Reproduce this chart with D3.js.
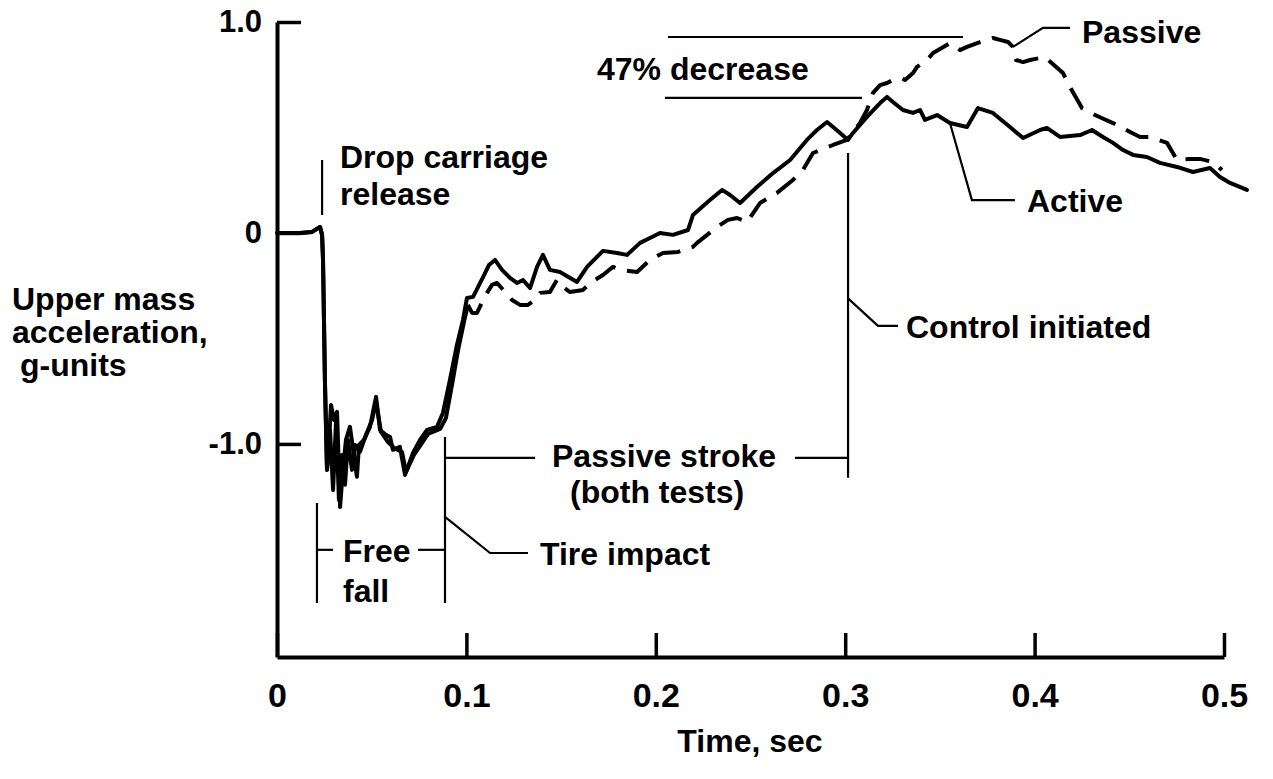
<!DOCTYPE html>
<html>
<head>
<meta charset="utf-8">
<script src="https://cdn.jsdelivr.net/npm/d3@7"></script>
<style>
  body { margin: 0; background: #fff; }
  text { font-family: "Liberation Sans", Arial, Helvetica, sans-serif; font-weight: bold; fill: #000; }
</style>
</head>
<body>
<script>
// x ticks (sec) and y ticks (g-units)
var xTicks = [0, 0.1, 0.2, 0.3, 0.4, 0.5];
var yTicks = [-1.0, 0, 1.0];
var xTickLabels = ["0", "0.1", "0.2", "0.3", "0.4", "0.5"];
var yTickLabels = ["-1.0", "0", "1.0"];

// active test, [time, accel]
var active = [
  [0, 0], [0.0121, 0], [0.0185, 0.005], [0.0227, 0.028], [0.0238, -0.009],
  [0.0243, -0.128], [0.0248, -0.412], [0.0253, -0.697], [0.0259, -0.934], [0.0264, -1.123],
  [0.0275, -0.981], [0.0285, -0.815], [0.0301, -0.886], [0.0317, -0.848], [0.0327, -1.123],
  [0.0333, -1.299], [0.0348, -1.123], [0.0364, -0.981], [0.0385, -0.919], [0.0406, -1.052],
  [0.0422, -1.156], [0.0433, -1.005], [0.0459, -0.981], [0.0491, -0.919], [0.0523, -0.777],
  [0.0544, -0.934], [0.0575, -0.957], [0.0597, -0.967], [0.0612, -1.028], [0.0649, -1.014],
  [0.0676, -1.147], [0.0718, -1.043], [0.0755, -0.981], [0.0792, -0.934], [0.0845, -0.919],
  [0.0876, -0.853], [0.0913, -0.697], [0.0950, -0.531], [0.0982, -0.412], [0.1003, -0.308],
  [0.1035, -0.303], [0.1088, -0.209], [0.1119, -0.152], [0.1151, -0.128], [0.1188, -0.175],
  [0.1230, -0.213], [0.1267, -0.237], [0.1299, -0.223], [0.1336, -0.261], [0.1373, -0.161],
  [0.1404, -0.104], [0.1441, -0.175], [0.1494, -0.185], [0.1584, -0.232], [0.1637, -0.161],
  [0.1721, -0.085], [0.1795, -0.095], [0.1848, -0.104], [0.1917, -0.047], [0.1969, -0.024],
  [0.2022, 0], [0.2091, -0.009], [0.2170, 0.014], [0.2196, 0.085], [0.2286, 0.156],
  [0.2350, 0.204], [0.2392, 0.180], [0.2445, 0.142], [0.2534, 0.218], [0.2619, 0.284],
  [0.2709, 0.346], [0.2798, 0.441], [0.2851, 0.488], [0.2904, 0.526], [0.2936, 0.502],
  [0.2973, 0.474], [0.3015, 0.441], [0.3041, 0.474], [0.3115, 0.550], [0.3184, 0.616],
  [0.3221, 0.645], [0.3252, 0.621], [0.3305, 0.583], [0.3358, 0.569], [0.3395, 0.583],
  [0.3421, 0.536], [0.3485, 0.559], [0.3553, 0.521], [0.3643, 0.502], [0.3701, 0.592],
  [0.3780, 0.569], [0.3870, 0.502], [0.3939, 0.450], [0.4029, 0.488], [0.4065, 0.498],
  [0.4134, 0.455], [0.4240, 0.464], [0.4303, 0.488], [0.4361, 0.455], [0.4414, 0.427],
  [0.4467, 0.393], [0.4520, 0.370], [0.4593, 0.360], [0.4662, 0.332], [0.4752, 0.313],
  [0.4836, 0.289], [0.4926, 0.308], [0.4979, 0.265], [0.5032, 0.237], [0.5121, 0.204]
];

// passive test: same start as active, own trace in free fall, then the upper dashed trace
var passiveEarly = [
  [0.0280, -0.934], [0.0296, -1.218], [0.0312, -0.886], [0.0327, -1.265], [0.0343, -1.052],
  [0.0359, -1.194], [0.0375, -0.981], [0.0396, -1.123], [0.0412, -1.005], [0.0438, -1.038],
  [0.0470, -0.957], [0.0502, -0.886], [0.0523, -0.801], [0.0549, -0.943], [0.0586, -0.991],
  [0.0618, -1.019], [0.0660, -1.038], [0.0681, -1.133], [0.0723, -1.052], [0.0797, -0.953],
  [0.0861, -0.929], [0.0892, -0.877], [0.0924, -0.720], [0.0956, -0.555], [0.0987, -0.422],
  [0.1008, -0.341]
];
var passiveTail = [
  [0.1030, -0.379], [0.1056, -0.379], [0.1088, -0.318], [0.1109, -0.284], [0.1135, -0.246],
  [0.1162, -0.237], [0.1204, -0.280], [0.1241, -0.318], [0.1283, -0.341], [0.1325, -0.341],
  [0.1362, -0.318], [0.1389, -0.284], [0.1441, -0.280], [0.1478, -0.223], [0.1510, -0.256],
  [0.1547, -0.280], [0.1616, -0.270], [0.1653, -0.237], [0.1721, -0.199], [0.1774, -0.161],
  [0.1811, -0.175], [0.1901, -0.185], [0.1969, -0.128], [0.2038, -0.095], [0.2117, -0.090],
  [0.2196, -0.066], [0.2218, -0.047], [0.2323, 0.028], [0.2381, 0.062], [0.2429, 0.071],
  [0.2482, 0.052], [0.2550, 0.142], [0.2640, 0.190], [0.2724, 0.251], [0.2777, 0.299],
  [0.2830, 0.379], [0.2936, 0.417], [0.3009, 0.441], [0.3078, 0.521], [0.3115, 0.583],
  [0.3147, 0.664], [0.3184, 0.701], [0.3221, 0.711], [0.3252, 0.725], [0.3289, 0.735],
  [0.3316, 0.725], [0.3358, 0.758], [0.3379, 0.787], [0.3432, 0.820], [0.3464, 0.853],
  [0.3553, 0.900], [0.3606, 0.867], [0.3643, 0.882], [0.3712, 0.905], [0.3780, 0.924],
  [0.3817, 0.915], [0.3860, 0.905], [0.3886, 0.882], [0.3902, 0.820], [0.3939, 0.810],
  [0.3976, 0.820], [0.4055, 0.834], [0.4150, 0.758], [0.4187, 0.692], [0.4250, 0.592],
  [0.4319, 0.559], [0.4414, 0.521], [0.4504, 0.479], [0.4557, 0.455], [0.4609, 0.455],
  [0.4699, 0.427], [0.4752, 0.346], [0.4820, 0.351], [0.4873, 0.351], [0.4942, 0.336],
  [0.4989, 0.299]
];
var passiveStart = active.filter(function(d) { return d[0] <= 0.0264; });
var passiveFree = passiveStart.concat(passiveEarly);   // drawn solid, traces overlap here
var passive = [passiveEarly[passiveEarly.length - 1]].concat(passiveTail);

var width = 1273, height = 779;
var svg = d3.select("body").append("svg")
    .attr("width", width)
    .attr("height", height);

var x = d3.scaleLinear().domain([0, 0.5]).range([277, 1224]);
var y = d3.scaleLinear().domain([-2.01, 1.0]).range([657, 22]);

// axes, ticks point inward
var xAxis = svg.append("g")
    .attr("transform", "translate(0,657)")
    .call(d3.axisBottom(x).tickValues(xTicks).tickSizeInner(-24).tickSizeOuter(0).tickPadding(26)
      .tickFormat(function(d, i) { return xTickLabels[i]; }));
xAxis.select(".domain").attr("stroke-width", 4);
xAxis.selectAll(".tick line").attr("stroke-width", 3.5);
xAxis.selectAll(".tick text").style("font-size", "34px").attr("fill", "#000");

var yAxis = svg.append("g")
    .attr("transform", "translate(277,0)")
    .call(d3.axisLeft(y).tickValues(yTicks).tickSizeInner(-24).tickSizeOuter(0).tickPadding(15)
      .tickFormat(function(d, i) { return yTickLabels[i]; }));
yAxis.select(".domain").attr("stroke-width", 4);
yAxis.selectAll(".tick line").attr("stroke-width", 3.5);
yAxis.selectAll(".tick text").style("font-size", "31px").attr("fill", "#000");

var line = d3.line()
    .x(function(d) { return x(d[0]); })
    .y(function(d) { return y(d[1]); });

svg.append("path")
    .datum(passive)
    .attr("d", line)
    .attr("fill", "none")
    .attr("stroke", "#000")
    .attr("stroke-width", 4)
    .attr("stroke-dasharray", "24,12")
    .attr("stroke-linejoin", "round");

svg.append("path")
    .datum(passiveFree)
    .attr("d", line)
    .attr("fill", "none")
    .attr("stroke", "#000")
    .attr("stroke-width", 4)
    .attr("stroke-linejoin", "round");

svg.append("path")
    .datum(active)
    .attr("d", line)
    .attr("fill", "none")
    .attr("stroke", "#000")
    .attr("stroke-width", 4)
    .attr("stroke-linejoin", "round")
    .attr("stroke-linecap", "round");

// leader lines, in data units
var leaders = [
  [[0.0238, 0.346], [0.0238, 0.085]],                                   // drop carriage release
  [[0.0211, -1.28], [0.0211, -1.754]],                                  // free fall left
  [[0.0211, -1.502], [0.0296, -1.502]],
  [[0.0745, -1.502], [0.0887, -1.502]],
  [[0.0887, -0.967], [0.0887, -1.754]],                                 // tire impact
  [[0.0887, -1.346], [0.1125, -1.517], [0.1325, -1.517]],
  [[0.0887, -1.066], [0.1363, -1.066]],                                 // passive stroke
  [[0.2735, -1.066], [0.3015, -1.066]],
  [[0.3015, 0.379], [0.3015, -1.16]],                                   // control initiated
  [[0.3015, -0.31], [0.3173, -0.44], [0.3279, -0.44]],
  [[0.2064, 0.929], [0.3622, 0.929]],                                   // 47% decrease
  [[0.2048, 0.64], [0.3089, 0.64]],
  [[0.3553, 0.521], [0.3669, 0.156], [0.3896, 0.156]],                  // active
  [[0.3886, 0.882], [0.4044, 0.972], [0.4187, 0.972]]                   // passive
];
svg.selectAll(".leader")
    .data(leaders)
  .enter().append("path")
    .attr("class", "leader")
    .attr("d", line)
    .attr("fill", "none")
    .attr("stroke", "#000")
    .attr("stroke-width", 2.2);

var labels = [
  {t: "Drop carriage", x: 340, y: 168},
  {t: "release", x: 340, y: 205},
  {t: "47% decrease", x: 597, y: 80},
  {t: "Passive", x: 1082, y: 43},
  {t: "Active", x: 1027, y: 212},
  {t: "Control initiated", x: 906, y: 338},
  {t: "Upper mass", x: 12, y: 310},
  {t: "acceleration,", x: 12, y: 343},
  {t: "g-units", x: 20, y: 376},
  {t: "Passive stroke", x: 552, y: 467},
  {t: "(both tests)", x: 570, y: 503},
  {t: "Tire impact", x: 540, y: 565},
  {t: "Free", x: 343, y: 562},
  {t: "fall", x: 343, y: 602},
  {t: "Time, sec", x: 750, y: 752, anchor: "middle"}
];
svg.selectAll(".label")
    .data(labels)
  .enter().append("text")
    .attr("class", "label")
    .attr("x", function(d) { return d.x; })
    .attr("y", function(d) { return d.y; })
    .attr("text-anchor", function(d) { return d.anchor || "start"; })
    .style("font-size", "32px")
    .text(function(d) { return d.t; });
</script>
</body>
</html>
